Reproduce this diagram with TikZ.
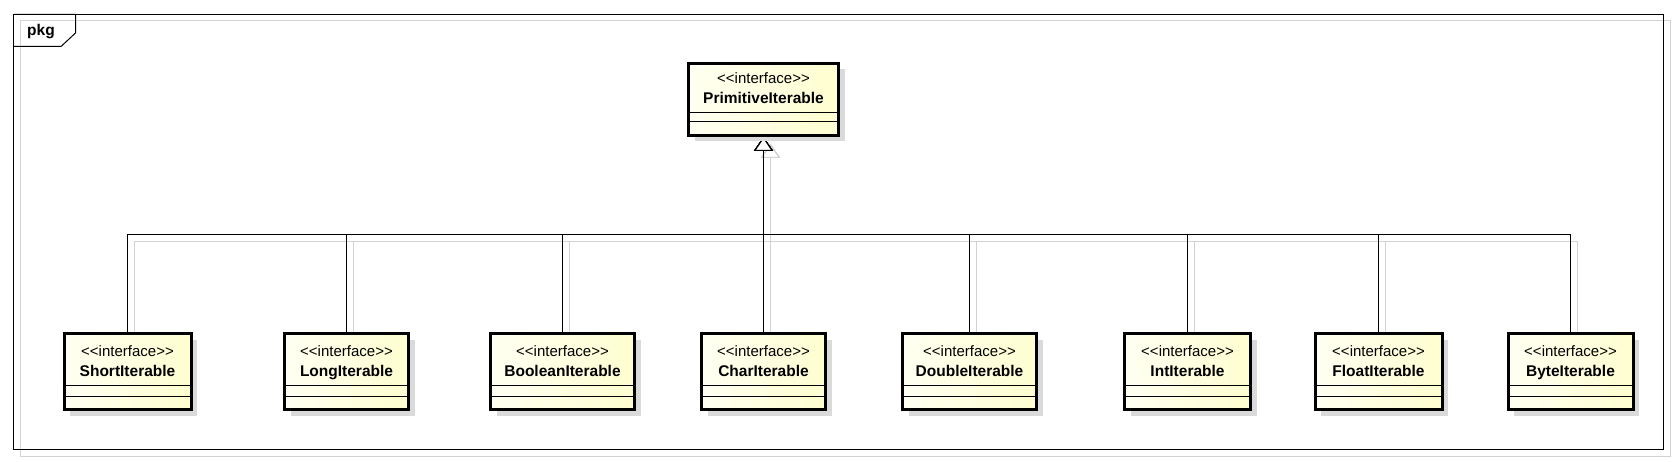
\documentclass[tikz,border=0pt]{standalone}
\usepackage{fontspec}
\setmainfont{Liberation Sans}[Ligatures=TeXOff]
\usetikzlibrary{arrows.meta,shadows,backgrounds}

\definecolor{umlfillleft}{HTML}{FFFFF2}
\definecolor{umlfillright}{HTML}{FEFED0}
\definecolor{umlshadow}{HTML}{DADADA}
\definecolor{lineshadow}{HTML}{D2D2D2}

\newcommand{\ifacetext}[1]{{\fontsize{15}{20}\selectfont<<interface>>}\\{\fontsize{15.5}{20}\selectfont\bfseries #1}}

\begin{document}
\begin{tikzpicture}[
    x=1pt, y=-1pt,
    iface/.style={draw, line width=3pt, left color=umlfillleft, right color=umlfillright,
      drop shadow={shadow xshift=6pt, shadow yshift=-6pt, fill=umlshadow, opacity=1}},
    topbox/.style={iface, minimum width=150pt, minimum height=72pt},
    subbox/.style={iface, minimum height=76pt},
    ifacelabel/.style={align=center, inner sep=0pt, anchor=north, font=\fontsize{15}{20}\selectfont},
    compline/.style={line width=1pt},
    gen/.style={line width=1.1pt, -{Triangle[open, fill=white, length=14pt, width=19pt]}},
    genshadow/.style={gen, draw=lineshadow, transform canvas={xshift=7pt, yshift=-7pt}}
  ]
  \useasboundingbox (0,0) rectangle (1677,462);

  \draw[lineshadow, line width=1pt] (20.5,20.5) rectangle (1670.5,456.5);
  \draw[line width=1pt] (13.5,14.5) rectangle (1663.5,449.5);
  \draw[line width=1pt] (13.5,14.5) -- (75.5,14.5) -- (75.5,33) -- (61,46.5) -- (13.5,46.5);
  \node[anchor=base, inner sep=0pt, font=\fontsize{15.5}{18}\selectfont\bfseries] (pkgname) at (41,36) {pkg};

  \node[topbox, label={[ifacelabel, yshift=-10pt]north:\ifacetext{PrimitiveIterable}}] (prim) at (763.5,99.5) {};

  \node[subbox, minimum width=127pt, label={[ifacelabel, yshift=-13pt]north:\ifacetext{ShortIterable}}] (short) at (127.5,371.5) {};
  \node[subbox, minimum width=124pt, label={[ifacelabel, yshift=-13pt]north:\ifacetext{LongIterable}}] (long) at (346.5,371.5) {};
  \node[subbox, minimum width=144pt, label={[ifacelabel, yshift=-13pt]north:\ifacetext{BooleanIterable}}] (boolean) at (562.5,371.5) {};
  \node[subbox, minimum width=124pt, label={[ifacelabel, yshift=-13pt]north:\ifacetext{CharIterable}}] (char) at (763.5,371.5) {};
  \node[subbox, minimum width=134pt, label={[ifacelabel, yshift=-13pt]north:\ifacetext{DoubleIterable}}] (double) at (969.5,371.5) {};
  \node[subbox, minimum width=126pt, label={[ifacelabel, yshift=-13pt]north:\ifacetext{IntIterable}}] (int) at (1187.5,371.5) {};
  \node[subbox, minimum width=127pt, label={[ifacelabel, yshift=-13pt]north:\ifacetext{FloatIterable}}] (float) at (1378.5,371.5) {};
  \node[subbox, minimum width=125pt, label={[ifacelabel, yshift=-13pt]north:\ifacetext{ByteIterable}}] (byte) at (1570.5,371.5) {};

  \draw[compline] ([yshift=24.5pt]prim.south west) -- ([yshift=24.5pt]prim.south east);
  \draw[compline] ([yshift=15.5pt]prim.south west) -- ([yshift=15.5pt]prim.south east);
  \foreach \sub in {short,long,boolean,char,double,int,float,byte} {
    \draw[compline] ([yshift=25.5pt]\sub.south west) -- ([yshift=25.5pt]\sub.south east);
    \draw[compline] ([yshift=14.5pt]\sub.south west) -- ([yshift=14.5pt]\sub.south east);
  }

  \coordinate (bus) at (763.5,234.5);
  \begin{scope}[on background layer]
    \foreach \sub in {short,long,boolean,char,double,int,float,byte}
      \draw[genshadow] (\sub.north) |- (bus) -| (prim.south);
    \foreach \sub in {short,long,boolean,char,double,int,float,byte}
      \draw[gen] (\sub.north) |- (bus) -| (prim.south);
  \end{scope}
\end{tikzpicture}
\end{document}
